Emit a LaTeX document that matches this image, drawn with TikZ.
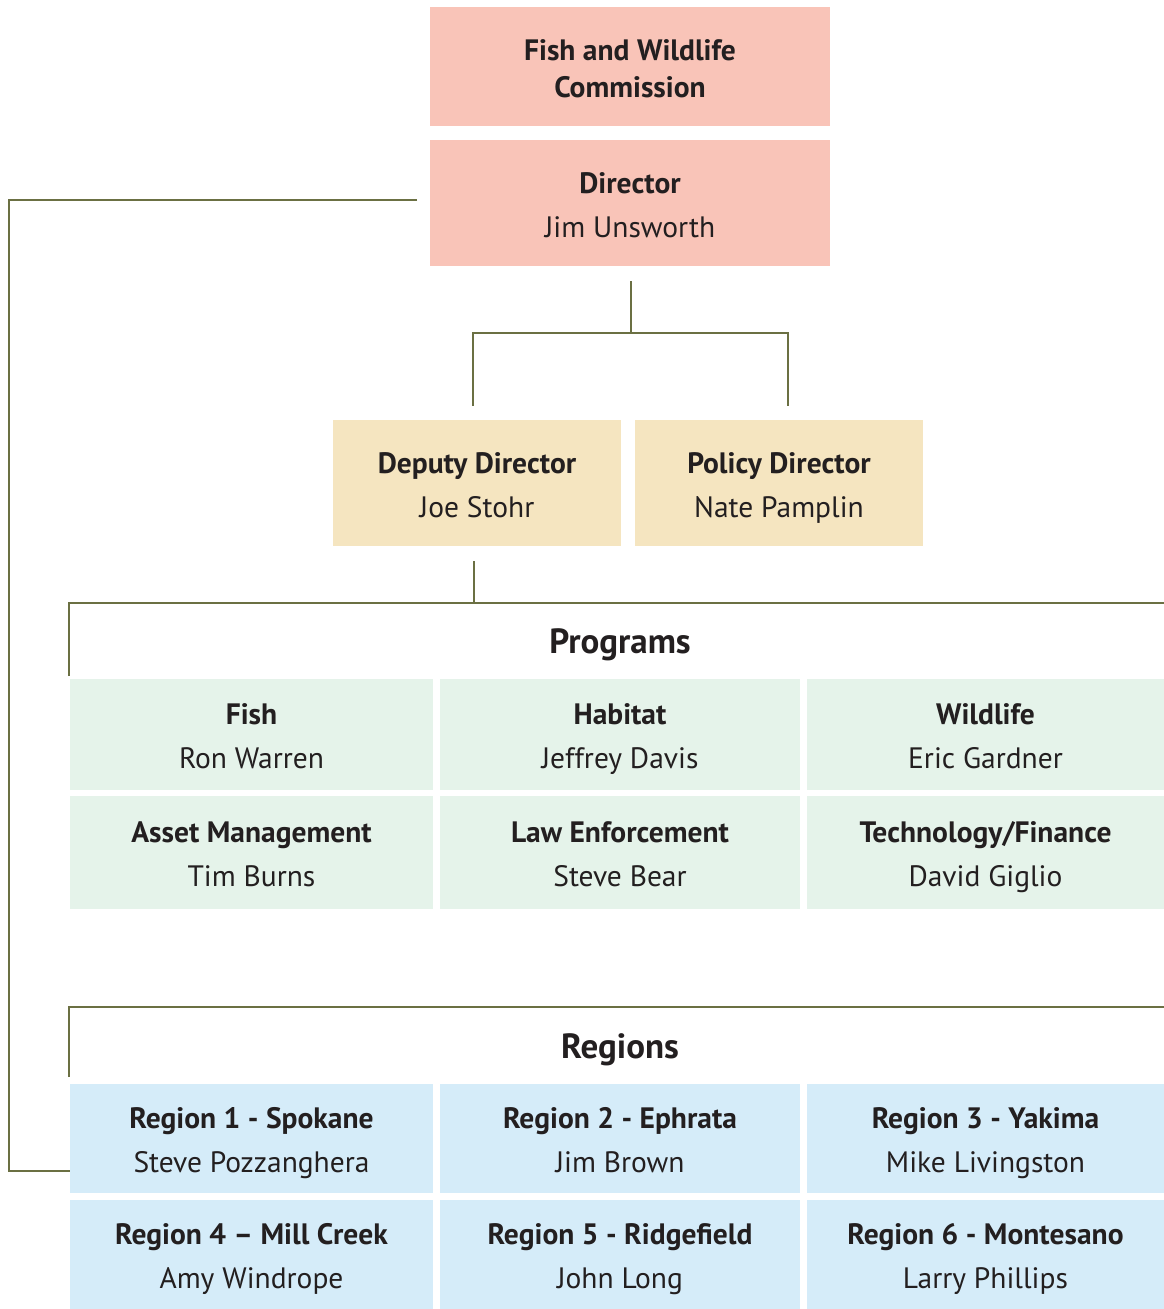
\documentclass[tikz,border=0pt]{standalone}
\usepackage{fontspec}
\setmainfont{PT Sans}
\definecolor{leadpink}{HTML}{F9C4B8}
\definecolor{deputycream}{HTML}{F5E5C0}
\definecolor{progreen}{HTML}{E5F3EA}
\definecolor{regionblue}{HTML}{D5ECF9}
\definecolor{linkolive}{HTML}{6B7043}
\definecolor{inkdark}{HTML}{231F20}
% two lines of a box: bold title, then the person
\newcommand{\unitlines}[2]{\rule{0pt}{32pt}\textbf{#1}\\#2\rule[-8pt]{0pt}{8pt}}
\tikzset{
  unitbox/.style={inner sep=0pt, align=center, text=inkdark, font=\fontsize{29.5}{44}\selectfont},
  grouphead/.style={inner sep=0pt, anchor=base, text=inkdark, font=\fontsize{35}{40}\selectfont\bfseries},
  link/.style={draw=linkolive, line width=2pt}
}
\begin{document}
\begin{tikzpicture}[x=1pt,y=-1pt]
\useasboundingbox (0,0) rectangle (1164,1309);

% top of the chart
\node[unitbox, fill=leadpink, minimum width=400pt, minimum height=119pt] (fwc) at (630,66.5)
  {\rule{0pt}{32pt}\textbf{Fish and Wildlife}\\[-7pt]\textbf{Commission}\rule[-8pt]{0pt}{8pt}};
\node[unitbox, fill=leadpink, minimum width=400pt, minimum height=126pt] (dir) at (630,203)
  {\unitlines{Director}{Jim Unsworth}};

\node[unitbox, fill=deputycream, minimum width=288pt, minimum height=126pt] (dep) at (477,483)
  {\unitlines{Deputy Director}{Joe Stohr}};
\node[unitbox, fill=deputycream, minimum width=288pt, minimum height=126pt] (pol) at (779,483)
  {\unitlines{Policy Director}{Nate Pamplin}};

% programs
\node[grouphead] (progs) at (620,653) {Programs};
\node[unitbox, fill=progreen, minimum width=363pt, minimum height=111pt] (fish) at (251.5,734.5)
  {\unitlines{Fish}{Ron Warren}};
\node[unitbox, fill=progreen, minimum width=360pt, minimum height=111pt] (hab) at (620,734.5)
  {\unitlines{Habitat}{Jeffrey Davis}};
\node[unitbox, fill=progreen, minimum width=357pt, minimum height=111pt] (wild) at (985.5,734.5)
  {\unitlines{Wildlife}{Eric Gardner}};
\node[unitbox, fill=progreen, minimum width=363pt, minimum height=113pt] (asset) at (251.5,852.5)
  {\unitlines{Asset Management}{Tim Burns}};
\node[unitbox, fill=progreen, minimum width=360pt, minimum height=113pt] (law) at (620,852.5)
  {\unitlines{Law Enforcement}{Steve Bear}};
\node[unitbox, fill=progreen, minimum width=357pt, minimum height=113pt] (tech) at (985.5,852.5)
  {\unitlines{Technology/Finance}{David Giglio}};

% regions
\node[grouphead] (regs) at (620,1058) {Regions};
\node[unitbox, fill=regionblue, minimum width=363pt, minimum height=109pt] (r1) at (251.5,1138.5)
  {\unitlines{Region 1 - Spokane}{Steve Pozzanghera}};
\node[unitbox, fill=regionblue, minimum width=360pt, minimum height=109pt] (r2) at (620,1138.5)
  {\unitlines{Region 2 - Ephrata}{Jim Brown}};
\node[unitbox, fill=regionblue, minimum width=357pt, minimum height=109pt] (r3) at (985.5,1138.5)
  {\unitlines{Region 3 - Yakima}{Mike Livingston}};
\node[unitbox, fill=regionblue, minimum width=363pt, minimum height=109pt] (r4) at (251.5,1254.5)
  {\unitlines{Region 4 – Mill Creek}{Amy Windrope}};
\node[unitbox, fill=regionblue, minimum width=360pt, minimum height=109pt] (r5) at (620,1254.5)
  {\unitlines{Region 5 - Ridgefield}{John Long}};
\node[unitbox, fill=regionblue, minimum width=357pt, minimum height=109pt] (r6) at (985.5,1254.5)
  {\unitlines{Region 6 - Montesano}{Larry Phillips}};

% connector ends
\coordinate (dirout) at (417,200);
\coordinate (r1in) at (70,1171);
\coordinate (dirstem) at (631,281);
\coordinate (dirfork) at (631,333);
\coordinate (depin) at (473,406);
\coordinate (polin) at (788,406);
\coordinate (depstem) at (474,561);
\coordinate (progfork) at (474,603);
\coordinate (progL) at (69,676);
\coordinate (progR) at (1164,603);
\coordinate (regL) at (69,1077);
\coordinate (regR) at (1164,1007);

\draw[link] (dirout) -- (9,200) -- (9,1171) -- (r1in);
\draw[link] (dirstem) -- (dirfork) -| (depin);
\draw[link] (dirfork) -| (polin);
\draw[link] (depstem) -- (progfork);
\draw[link] (progL) |- (progR);
\draw[link] (regL) |- (regR);

\end{tikzpicture}
\end{document}
